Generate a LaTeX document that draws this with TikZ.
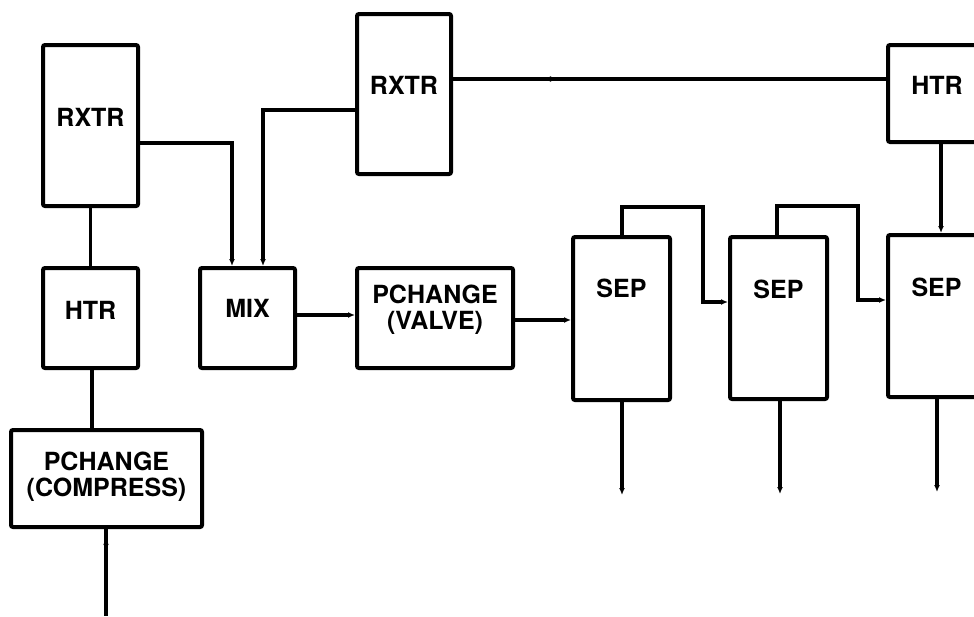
\documentclass[tikz,border=0pt]{standalone}
\usepackage{fontspec}
\setmainfont{TeX Gyre Heros}
\usetikzlibrary{arrows.meta,decorations.markings,calc}
\begin{document}
\begin{tikzpicture}[x=1pt,y=-1pt,
  box/.style={draw,line width=4pt,rounded corners=2pt,inner sep=0pt},
  lbl/.style={font=\bfseries\fontsize{25}{26}\selectfont,align=center,inner sep=0pt},
  conn/.style={line width=3.2pt},
  tip/.style={-{Latex[length=7pt,width=6pt]}},
  midtip/.style={postaction={decorate},decoration={markings,mark=at position #1 with {\arrow{Latex[length=7pt,width=6pt]}}}}
]
\useasboundingbox (0,0) rectangle (974,616);
% boxes
\node[box,minimum width=95pt,minimum height=161pt,label={[lbl,yshift=8pt]center:RXTR}] (rxtrA) at (90.5,125.5) {};
\node[box,minimum width=95pt,minimum height=100pt,label={[lbl,yshift=8pt]center:HTR}] (htrA) at (90.5,318) {};
\node[box,minimum width=191pt,minimum height=97pt,label={[lbl,yshift=2pt]center:PCHANGE\\(COMPRESS)}] (comp) at (106.5,478.5) {};
\node[box,minimum width=95pt,minimum height=100pt,label={[lbl,yshift=10pt]center:MIX}] (mix) at (247.5,318) {};
\node[box,minimum width=94pt,minimum height=160pt,label={[lbl,yshift=9pt]center:RXTR}] (rxtrB) at (404,94) {};
\node[box,minimum width=156pt,minimum height=100pt,label={[lbl,yshift=8pt]center:PCHANGE\\(VALVE)}] (valve) at (435,318) {};
\node[box,minimum width=97pt,minimum height=163pt,label={[lbl,yshift=30pt]center:SEP}] (sep1) at (621.5,318.5) {};
\node[box,minimum width=97pt,minimum height=162pt,label={[lbl,yshift=29pt]center:SEP}] (sep2) at (778.5,318) {};
\node[box,minimum width=97pt,minimum height=162pt,label={[lbl,yshift=29pt]center:SEP}] (sep3) at (936.5,316) {};
\node[box,minimum width=98pt,minimum height=97pt,label={[lbl,yshift=8.5pt]center:HTR}] (htrB) at (937,93.5) {};
% outlet end points
\coordinate (out0) at (106,616);
\coordinate (out1) at (622,495);
\coordinate (out2) at (780,494);
\coordinate (out3) at (937,492);
% connectors
\draw[conn] (rxtrA.south) -- (htrA.north);
\draw[conn] (htrA.south -| 92,0) -- (comp.north -| 92,0);
\draw[conn,midtip=0.25] (comp.south -| out0) -- (out0);
\draw[conn,tip] (rxtrA.east |- 0,143) -| (mix.north -| 232,0);
\draw[conn,tip] (rxtrB.west |- 0,110) -| (mix.north -| 263,0);
\draw[conn,midtip=0.24] (rxtrB.east |- 0,79) -- (htrB.west |- 0,79);
\draw[conn,tip] (htrB.south -| 941,0) -- (sep3.north -| 941,0);
\draw[conn,tip] (mix.east |- 0,315) -- (valve.west |- 0,315);
\draw[conn,tip] (valve.east |- 0,320) -- (sep1.west |- 0,320);
\draw[conn,tip] (sep1.north -| 622,0) |- (703,207) |- (sep2.west |- 0,302);
\draw[conn,tip] (sep2.north -| 777,0) |- (858,206) |- (sep3.west |- 0,300);
\draw[conn,tip] (sep1.south -| out1) -- (out1);
\draw[conn,tip] (sep2.south -| out2) -- (out2);
\draw[conn,tip] (sep3.south -| out3) -- (out3);
\end{tikzpicture}
\end{document}
